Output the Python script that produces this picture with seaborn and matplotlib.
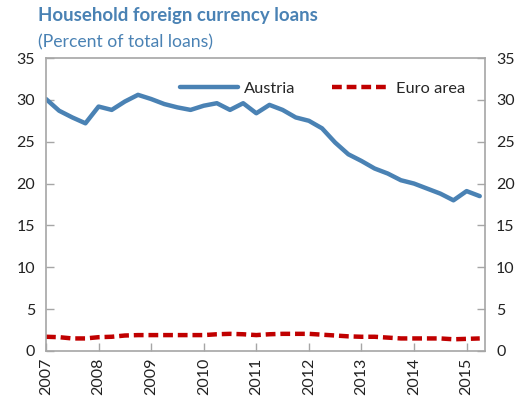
import numpy as np
import pandas as pd
import matplotlib
matplotlib.use("Agg")
import matplotlib.pyplot as plt
import seaborn as sns

years = [2007, 2008, 2009, 2010, 2011, 2012, 2013, 2014, 2015]
quarter_time = [2007 + 0.25 * i for i in range(34)]
austria = [30.1, 28.7, 27.9, 27.2, 29.2, 28.8, 29.8, 30.6, 30.1, 29.5,
           29.1, 28.8, 29.3, 29.6, 28.8, 29.6, 28.4, 29.4, 28.8, 27.9,
           27.5, 26.6, 24.9, 23.5, 22.7, 21.8, 21.2, 20.4, 20.0, 19.4,
           18.8, 18.0, 19.1, 18.5]
euro_area = [1.7, 1.65, 1.5, 1.5, 1.65, 1.7, 1.85, 1.9, 1.9, 1.9,
             1.9, 1.9, 1.9, 2.0, 2.05, 2.0, 1.9, 2.0, 2.05, 2.05,
             2.05, 1.95, 1.85, 1.75, 1.7, 1.7, 1.6, 1.5, 1.5, 1.5,
             1.5, 1.4, 1.45, 1.5]
y_ticks = [0, 5, 10, 15, 20, 25, 30, 35]

sns.set_theme(style="white")
plt.rcParams['font.family'] = ['Lato', 'DejaVu Sans']

df = pd.DataFrame({"time": quarter_time * 2,
                   "value": austria + euro_area,
                   "series": ["Austria"] * len(austria) + ["Euro area"] * len(euro_area)})

fig = plt.figure(figsize=(5.26, 4.04), dpi=100)
ax = fig.add_axes([46 / 526, 1 - 351 / 404, 439 / 526, (351 - 58) / 404])

blue = "#4A82B4"
red = "#C00000"
sns.lineplot(data=df[df.series == "Austria"], x="time", y="value", ax=ax,
             color=blue, linewidth=3.2, label="Austria")
sns.lineplot(data=df[df.series == "Euro area"], x="time", y="value", ax=ax,
             color=red, linewidth=3.2, linestyle=(0, (2.2, 1.1)), label="Euro area")

ax.set_xlim(2007, 2015.35)
ax.set_ylim(0, 35)
ax.set_xticks(years)
ax.set_xticklabels([str(y) for y in years], rotation=90, fontsize=11.5)
ax.set_yticks(y_ticks)
ax.set_yticklabels([str(v) for v in y_ticks], fontsize=11.5)
ax.set_xlabel("")
ax.set_ylabel("")

grey = "#A6A6A6"
for side in ["left", "right", "bottom", "top"]:
    ax.spines[side].set_visible(True)
    ax.spines[side].set_color(grey)
    ax.spines[side].set_linewidth(1.2)
ax.tick_params(axis="both", direction="in", length=6, color=grey, width=1,
               labelcolor="#222222")
ax.tick_params(axis="y", left=True, right=True, labelleft=True, labelright=True, pad=8)
ax.tick_params(axis="x", bottom=True, top=False, pad=5)

leg = ax.legend(loc="upper center", bbox_to_anchor=(0.63, 0.97), ncol=2, frameon=False,
                fontsize=11.8, handlelength=3.5, columnspacing=2.2, handletextpad=0.4)

fig.text(38 / 526, 1 - 15 / 404, "Household foreign currency loans", fontsize=13.4,
         fontweight="bold", color=blue, va="center", ha="left")
fig.text(38 / 526, 1 - 42 / 404, "(Percent of total loans)", fontsize=12.7,
         color=blue, va="center", ha="left")

fig.savefig("out.png", dpi=100)
